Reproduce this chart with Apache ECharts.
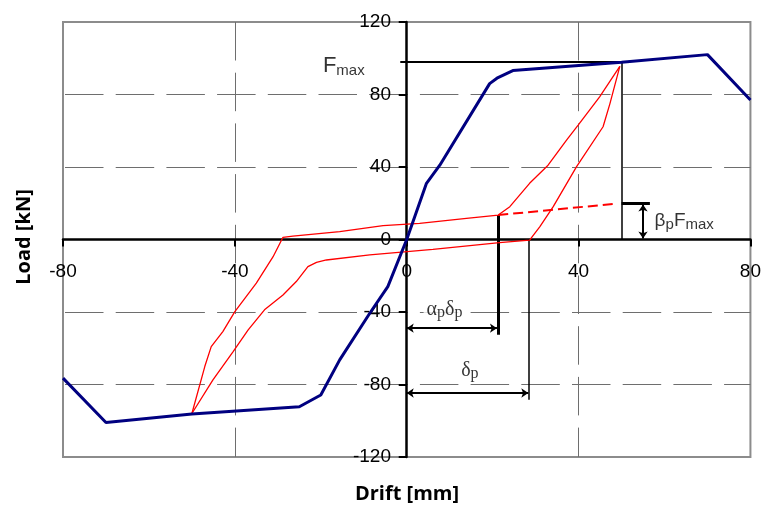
<!DOCTYPE html>
<html>
<head>
<meta charset="utf-8">
<script src="https://cdn.jsdelivr.net/npm/echarts/dist/echarts.min.js"></script>
<style>
  html, body { margin: 0; padding: 0; background: #fff; }
  #chart { width: 764px; height: 509px; }
</style>
</head>
<body>
<div id="chart"></div>
<script>
// backbone (envelope) curve
const backboneDrift = [-80, -70, -50, -25, -20, -15.6, -8.6, -4.4, 0, 4.6, 7.7, 19.3, 21, 24.7, 50, 70, 80];
const backboneLoad = [-76.5, -101, -96.3, -92.3, -85.8, -66.4, -40.7, -26, 0, 31, 41, 86, 89, 93.2, 97.8, 102, 77];

// hysteresis loop, reloading branch
const reloadDrift = [-50, -47, -45.5, -42.8, -40, -35, -31.1, -28.8, -26.5, -15.6, -5.5, 3, 13.9, 21.3, 24, 28.6, 32.9, 37.2, 39.9, 44.9, 49.6];
const reloadLoad = [-96, -70.1, -59.1, -50.8, -39.8, -24.1, -9.5, 1.2, 1.9, 4.3, 7.6, 8.9, 11.7, 13.5, 18.1, 31, 41, 54.8, 63.1, 78.7, 95.5];

// hysteresis loop, unloading branch
const unloadDrift = [49.6, 47.3, 45.7, 39.5, 34.1, 31, 28.6, 21.6, 6.1, -8.6, -18.7, -21, -23, -25.7, -28.8, -33.1, -36.9, -40.4, -45.1, -50];
const unloadLoad = [95.5, 75, 62.2, 40.1, 18.1, 7.1, -0.3, -1.7, -5.4, -8.5, -11.3, -12.6, -15, -23.2, -30.6, -38.8, -49.9, -61.8, -77.4, -96];

// residual strength extension (dashed)
const residualDrift = [21.3, 48];
const residualLoad = [13.5, 19.6];

// annotation lines [from, to]
const fmaxLine = [[-1.5, 98], [50, 98]];
const fmaxDrop = [[50, 98], [50, 0]];
const betaTop = [[50, 20], [56.6, 20]];
const alphaDrop = [[21.3, 13.5], [21.3, -52.6]];
const deltaDrop = [[28.5, 0], [28.5, -88.4]];
const alphaArrow = [[0, -48.9], [21, -48.9]];
const deltaArrow = [[0, -84.7], [28.3, -84.7]];
const betaArrow = [[55, 19.3], [55, 0.6]];

// text anchors
const fmaxAt = [-19.5, 96];
const betaAt = [57.7, 10.2];
const alphaAt = [8.8, -38.8];
const deltaAt = [14.7, -72.5];

const pairs = (xs, ys) => xs.map((x, i) => [x, ys[i]]);

const chart = echarts.init(document.getElementById('chart'), null, { renderer: 'canvas' });

const tickFont = { fontFamily: 'Liberation Sans, Arial, sans-serif', fontSize: 19, color: '#000' };
const dash = [38.5, 12.2];

function textPoint(at, formatter, rich, align, extra) {
  return {
    type: 'scatter',
    symbolSize: 0,
    silent: true,
    z: 6,
    data: [at],
    label: Object.assign({
      show: true,
      position: [0, 0],
      align: align,
      verticalAlign: 'middle',
      formatter: formatter,
      rich: rich
    }, extra || {})
  };
}

const option = {
  animation: false,
  backgroundColor: '#fff',
  grid: {
    left: 63, right: 13, top: 22, bottom: 52,
    show: true,
    borderColor: '#8c8c8c',
    borderWidth: 2,
    backgroundColor: '#fff'
  },
  xAxis: {
    type: 'value',
    min: -80, max: 80, interval: 40,
    axisLine: { onZero: true, lineStyle: { color: '#000', width: 2.5 } },
    axisTick: { show: true, length: 7, lineStyle: { color: '#000', width: 2 } },
    // labels sit under the zero line, not under the frame
    axisLabel: Object.assign({ margin: -195 }, tickFont),
    splitLine: { show: true, showMinLine: false, showMaxLine: false,
      lineStyle: { color: '#6e6e6e', width: 1, type: dash } }
  },
  yAxis: {
    type: 'value',
    min: -120, max: 120, interval: 40,
    axisLine: { onZero: true, lineStyle: { color: '#000', width: 2.5 } },
    axisTick: { show: true, length: 8, lineStyle: { color: '#000', width: 2 } },
    // labels sit left of the zero line
    axisLabel: Object.assign({ margin: -328 }, tickFont),
    splitLine: { show: true, showMinLine: false, showMaxLine: false,
      lineStyle: { color: '#6e6e6e', width: 1, type: dash, dashOffset: 48.7 } }
  },
  graphic: [
    {
      type: 'text', x: 407, y: 494,
      style: { text: 'Drift [mm]', fill: '#000', font: 'bold 20px "Open Sans", sans-serif',
        textAlign: 'center', textVerticalAlign: 'middle' }
    },
    {
      type: 'text', x: 24, y: 237, rotation: Math.PI / 2,
      style: { text: 'Load [kN]', fill: '#000', font: 'bold 20px "Open Sans", sans-serif',
        textAlign: 'center', textVerticalAlign: 'middle' }
    }
  ],
  series: [
    {
      type: 'lines',
      coordinateSystem: 'cartesian2d',
      silent: true,
      z: 3,
      symbol: 'none',
      lineStyle: { color: '#000', width: 1.5, opacity: 1 },
      data: [
        { coords: fmaxLine, lineStyle: { width: 2 } },
        { coords: fmaxDrop },
        { coords: betaTop, lineStyle: { width: 3 } },
        { coords: alphaDrop, lineStyle: { width: 3 } },
        { coords: deltaDrop }
      ]
    },
    {
      type: 'lines',
      coordinateSystem: 'cartesian2d',
      silent: true,
      z: 3,
      symbol: ['arrow', 'arrow'],
      symbolSize: 7,
      lineStyle: { color: '#000', width: 2, opacity: 1 },
      data: [
        { coords: alphaArrow },
        { coords: deltaArrow },
        { coords: betaArrow }
      ]
    },
    {
      type: 'line',
      data: pairs(reloadDrift, reloadLoad),
      showSymbol: false,
      lineStyle: { color: '#ff0000', width: 1.3 },
      z: 4
    },
    {
      type: 'line',
      data: pairs(unloadDrift, unloadLoad),
      showSymbol: false,
      lineStyle: { color: '#ff0000', width: 1.3 },
      z: 4
    },
    {
      type: 'line',
      data: pairs(residualDrift, residualLoad),
      showSymbol: false,
      lineStyle: { color: '#ff0000', width: 2, type: [10, 5] },
      z: 4
    },
    {
      type: 'line',
      data: pairs(backboneDrift, backboneLoad),
      showSymbol: false,
      lineStyle: { color: '#000080', width: 3 },
      z: 5
    },
    textPoint(fmaxAt, '{F|F}{s|max}', {
      F: { fontFamily: 'Liberation Sans', fontSize: 22, color: '#000', lineHeight: 26 },
      s: { fontFamily: 'Liberation Sans', fontSize: 15, color: '#000', lineHeight: 18, verticalAlign: 'bottom' }
    }, 'left'),
    textPoint(betaAt, '{F|β}{p|p}{F|F}{s|max}', {
      F: { fontFamily: 'Liberation Sans', fontSize: 19, color: '#000', lineHeight: 22 },
      p: { fontFamily: 'Liberation Sans', fontSize: 15, color: '#000', lineHeight: 18, verticalAlign: 'bottom' },
      s: { fontFamily: 'Liberation Sans', fontSize: 15, color: '#000', lineHeight: 18, verticalAlign: 'bottom' }
    }, 'left'),
    textPoint(alphaAt, '{g|α}{p|p}{g|δ}{p|p}', {
      g: { fontFamily: 'Liberation Serif', fontSize: 20, color: '#000', lineHeight: 22 },
      p: { fontFamily: 'Liberation Serif', fontSize: 16, color: '#000', lineHeight: 18, verticalAlign: 'bottom' }
    }, 'center', { backgroundColor: '#fff', padding: [0, 3] }),
    textPoint(deltaAt, '{g|δ}{p|p}', {
      g: { fontFamily: 'Liberation Serif', fontSize: 20, color: '#000', lineHeight: 22 },
      p: { fontFamily: 'Liberation Serif', fontSize: 16, color: '#000', lineHeight: 18, verticalAlign: 'bottom' }
    }, 'center')
  ]
};

chart.setOption(option);
</script>
</body>
</html>
